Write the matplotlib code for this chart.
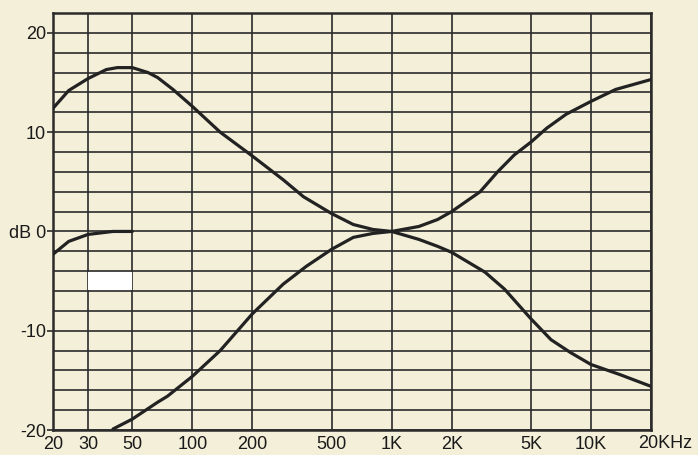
import matplotlib.pyplot as plt
import matplotlib.ticker as mticker
import numpy as np

# bass boost curve
bb_freq = [20, 24, 30, 37, 42, 50, 60, 67, 80, 100, 138, 200, 286, 361, 500, 642, 805, 1000]
bb_db = [12.4, 14.2, 15.4, 16.3, 16.5, 16.5, 16.0, 15.5, 14.3, 12.6, 10.0, 7.6, 5.2, 3.5, 1.8, 0.7, 0.2, 0.0]

# bass cut curve
bc_freq = [40, 50, 67, 75, 100, 138, 200, 286, 374, 500, 642, 805, 1000]
bc_db = [-19.9, -18.9, -17.2, -16.6, -14.6, -12.0, -8.3, -5.3, -3.5, -1.8, -0.6, -0.2, 0.0]

# low cut (subsonic) curve
lc_freq = [20, 24, 30, 40, 50]
lc_db = [-2.3, -1.0, -0.3, 0.0, 0.0]

# treble boost curve
tb_freq = [1000, 1370, 1700, 2000, 2780, 3400, 4120, 5000, 6000, 7500, 10000, 13300, 20000]
tb_db = [0.0, 0.5, 1.2, 2.0, 4.0, 6.0, 7.7, 9.0, 10.4, 11.8, 13.1, 14.3, 15.3]

# treble cut curve
tc_freq = [1000, 1370, 1700, 2000, 2940, 3680, 5000, 6300, 7900, 10000, 13900, 20000]
tc_db = [0.0, -0.8, -1.5, -2.1, -4.1, -5.8, -8.8, -10.9, -12.2, -13.4, -14.4, -15.6]

xticks = [20, 30, 50, 100, 200, 500, 1000, 2000, 5000, 10000, 20000]
xlabels = ['20', '30', '50', '100', '200', '500', '1K', '2K', '5K', '10K', '']
yticks = [-20, -10, 0, 10, 20]
ylabels = ['-20', '-10', 'dB 0', '10', '20']

bg = '#f4efd9'
ink = '#2b2b2b'

plt.rcParams['font.family'] = ['Liberation Sans', 'DejaVu Sans']

fig = plt.figure(figsize=(6.98, 4.55), dpi=100, facecolor=bg)
ax = fig.add_axes([0.0759, 0.0549, 0.8567, 0.9165])
ax.set_facecolor(bg)
ax.set_xscale('log')
ax.set_xlim(20, 20000)
ax.set_ylim(-20, 22)

ax.set_xticks(xticks)
ax.set_xticklabels(xlabels)
ax.xaxis.set_minor_locator(mticker.NullLocator())
ax.set_yticks(yticks)
ax.set_yticklabels(ylabels)
ax.set_yticks(np.arange(-18, 22, 2), minor=True)

ax.grid(True, which='major', color=ink, lw=1.2)
ax.grid(True, which='minor', axis='y', color=ink, lw=1.2)
ax.tick_params(which='both', length=0, labelsize=13, colors='#1a1a1a')
ax.tick_params(axis='y', which='major', length=4, width=1.2, pad=1, color=ink)
ax.tick_params(axis='x', pad=4)
for s in ax.spines.values():
    s.set_color(ink)
    s.set_linewidth(1.8)

# white patch in the scan
ax.fill_between([30, 50], -5.9, -4.1, color='white', lw=0, zorder=2.5)

for f, d in [(bb_freq, bb_db), (bc_freq, bc_db), (lc_freq, lc_db),
             (tb_freq, tb_db), (tc_freq, tc_db)]:
    ax.plot(f, d, color='#222222', lw=2.3, solid_capstyle='round',
            solid_joinstyle='round', zorder=3)

ax.annotate('20KHz', xy=(20000, 0), xycoords=('data', 'axes fraction'),
            xytext=(-13, -5), textcoords='offset pixels', ha='left', va='top',
            fontsize=13, color='#1a1a1a', annotation_clip=False)

fig.savefig('out.png', dpi=100, facecolor=bg)
